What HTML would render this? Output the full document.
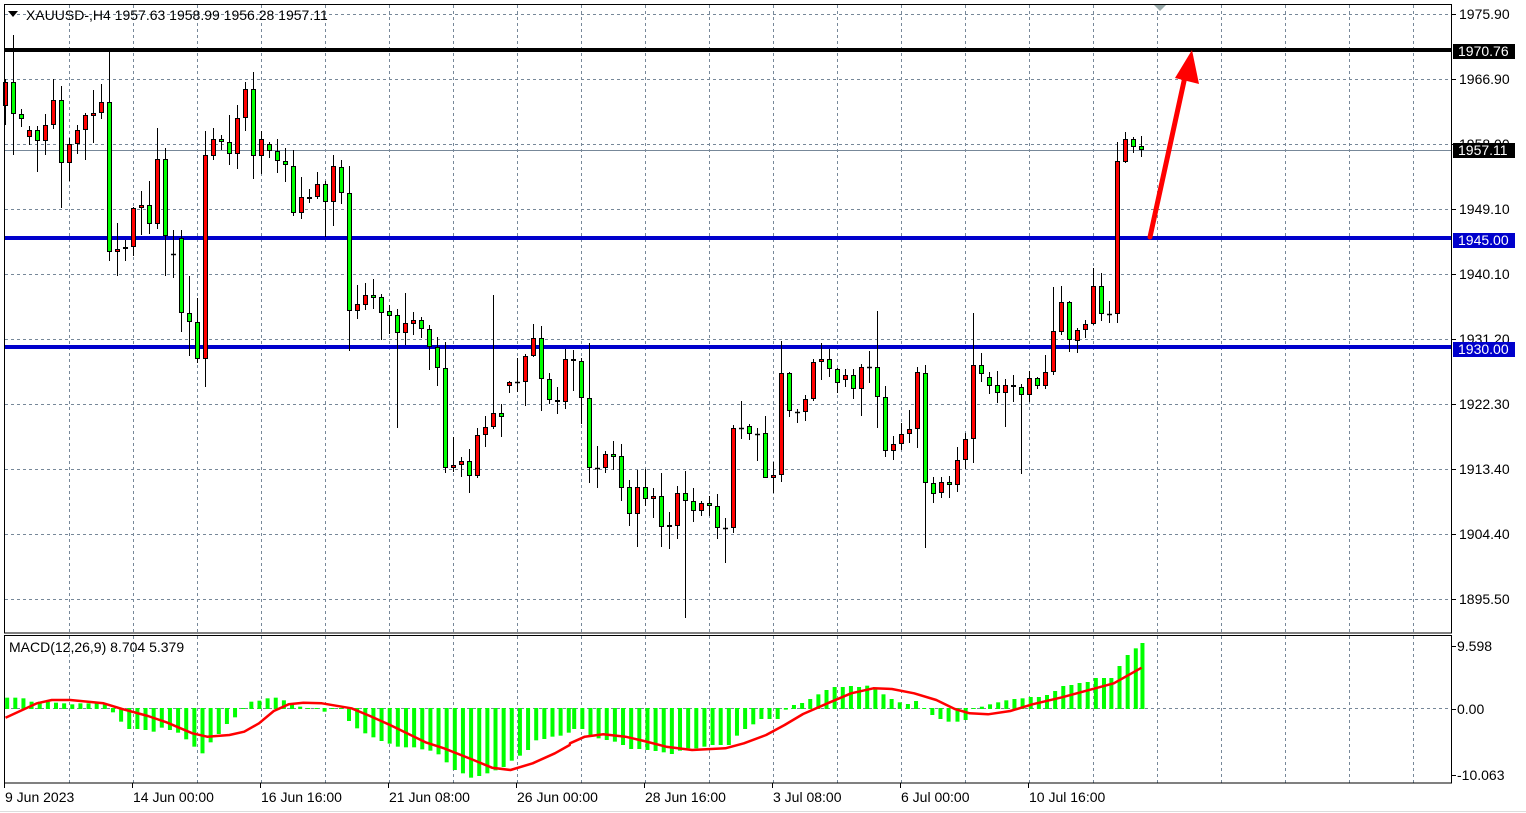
<!DOCTYPE html>
<html><head><meta charset="utf-8">
<style>
html,body{margin:0;padding:0;background:#fff;width:1526px;height:813px;overflow:hidden}
svg{display:block}
text{font-family:"Liberation Sans",sans-serif;font-size:14px;fill:#000}
</style></head><body>
<svg id="s" width="1526" height="813" xmlns="http://www.w3.org/2000/svg">
<rect x="0" y="0" width="1526" height="813" fill="#fff"/>
<g id="grid"></g>
<g id="lines"></g>
<g id="candles"></g>
<g id="macd"></g>
<rect x="4.5" y="4.5" width="1447" height="628.5" fill="none" stroke="#000" stroke-width="1"/>
<rect x="4.5" y="635.5" width="1447" height="147.5" fill="none" stroke="#000" stroke-width="1"/>
<line x1="0" x2="1526" y1="811.5" y2="811.5" stroke="#ddd"/>
<polygon points="8,11 18,11 13,17" fill="#000"/>
<text x="26" y="20">XAUUSD-,H4  1957.63 1958.99 1956.28 1957.11</text>
<polygon points="1154,5 1166,5 1160,11" fill="#9aa"/>
<text x="9" y="652">MACD(12,26,9) 8.704 5.379</text>
<g id="axis"></g>
<line x1="1150" y1="237" x2="1186" y2="72" stroke="#f00" stroke-width="5" stroke-linecap="round"/>
<polygon points="1175,78 1199,84 1192,50" fill="#f00"/>
</svg>
<script>
var NS="http://www.w3.org/2000/svg";
function el(p,t,a,txt){var e=document.createElementNS(NS,t);for(var k in a)e.setAttribute(k,a[k]);if(txt!=null)e.textContent=txt;document.getElementById(p).appendChild(e);return e;}
var gc="#778899";
for(var x=69.5;x<1452;x+=64){
 el("grid","line",{x1:x,x2:x,y1:5,y2:633,stroke:gc,"stroke-dasharray":"3,3"});
 el("grid","line",{x1:x,x2:x,y1:636,y2:783,stroke:gc,"stroke-dasharray":"3,3"});
}
var hy=[[14,"1975.90"],[79,"1966.90"],[144,"1958.00"],[209,"1949.10"],[274,"1940.10"],[339,"1931.20"],[404,"1922.30"],[469,"1913.40"],[534,"1904.40"],[599,"1895.50"]];
hy.forEach(function(h){
 el("grid","line",{x1:5,x2:1452,y1:h[0]+.5,y2:h[0]+.5,stroke:gc,"stroke-dasharray":"3,3"});
 el("axis","line",{x1:1452,x2:1456,y1:h[0]+.5,y2:h[0]+.5,stroke:"#000"});
 el("axis","text",{x:1459,y:h[0]+5},h[1]);
});
el("grid","line",{x1:5,x2:1452,y1:708.5,y2:708.5,stroke:gc,"stroke-dasharray":"3,3"});
[[646,"9.598"],[709,"0.00"],[775,"-10.063"]].forEach(function(h){
 el("axis","line",{x1:1452,x2:1456,y1:h[0]+.5,y2:h[0]+.5,stroke:"#000"});
 el("axis","text",{x:1457,y:h[0]+5},h[1]);
});
el("lines","line",{x1:5,x2:1452,y1:150.5,y2:150.5,stroke:"#778899"});
el("lines","rect",{x:5,y:48,width:1447,height:4,fill:"#000"});
el("lines","rect",{x:5,y:236,width:1447,height:4,fill:"#0000cc"});
el("lines","rect",{x:5,y:345,width:1447,height:4,fill:"#0000cc"});
function lab(y,t,bg){el("axis","rect",{x:1453,y:y-7,width:62,height:15,fill:bg});var e=el("axis","text",{x:1458,y:y+5},t);e.setAttribute("style","fill:#fff");}
lab(51,"1970.76","#000");lab(150,"1957.11","#000");lab(240,"1945.00","#0000cc");lab(349,"1930.00","#0000cc");
[[4,"9 Jun 2023"],[132,"14 Jun 00:00"],[260,"16 Jun 16:00"],[388,"21 Jun 08:00"],[516,"26 Jun 00:00"],[644,"28 Jun 16:00"],[772,"3 Jul 08:00"],[900,"6 Jul 00:00"],[1028,"10 Jul 16:00"]].forEach(function(t){
 el("axis","line",{x1:t[0]+.5,x2:t[0]+.5,y1:783,y2:788,stroke:"#000"});
 el("axis","text",{x:t[0]+1,y:802},t[1]);
});
var C=[
[79,82,106,125,"r"],[35,82,114,155,"g"],[109,114,119,127,"g"],[126,130,137,145,"r"],[126,130,141,172,"g"],[114,125,141,155,"r"],[79,100,125,129,"r"],[86,100,163,208,"g"],[138,144,163,181,"r"],[125,130,144,154,"r"],[113,115,130,160,"r"],[90,113,116,143,"r"],[84,102,113,119,"r"],[52,102,252,261,"g"],[223,249,252,276,"r"],[240,247,249,261,"r"],[207,208,247,256,"r"],[191,205,208,235,"r"],[181,205,224,234,"g"],[128,159,224,229,"r"],[148,159,236,276,"g"],[230,254,254,278,"d"],[230,238,313,332,"g"],[276,313,322,356,"g"],[298,322,359,363,"g"],[131,155,359,387,"r"],[128,139,156,160,"r"],[135,139,142,150,"g"],[115,142,154,165,"g"],[105,118,154,169,"r"],[82,89,118,131,"r"],[72,89,156,179,"g"],[131,139,156,174,"r"],[142,144,151,158,"g"],[139,151,161,173,"g"],[148,161,165,182,"g"],
[150,166,213,216,"g"],[177,197,213,219,"r"],[189,197,199,203,"g"],[172,184,197,199,"r"],[181,184,202,237,"g"],[155,166,202,226,"r"],[160,167,193,204,"g"],[166,193,311,351,"g"],[285,304,311,319,"r"],[283,295,305,310,"r"],[279,295,298,309,"g"],[294,297,313,340,"g"],[305,311,316,334,"g"],[309,315,333,428,"g"],[293,323,333,345,"r"],[312,320,324,335,"r"],[317,320,329,338,"g"],[325,329,347,370,"g"],[337,347,368,386,"g"],[342,368,468,473,"g"],[437,465,468,472,"r"],[457,461,465,477,"r"],[449,461,476,493,"g"],[428,435,476,478,"r"],[416,427,435,447,"r"],[295,413,427,429,"r"],[404,413,417,437,"g"],[381,382,386,393,"r"],[358,382,382,392,"d"],[354,356,382,406,"r"],[324,338,356,357,"r"],[326,338,379,411,"g"],[373,379,400,404,"g"],[387,400,402,414,"g"],[349,359,402,409,"r"],[350,359,361,391,"g"],
[358,361,398,424,"g"],[343,398,468,483,"g"],[446,468,468,488,"d"],[451,454,468,473,"r"],[441,454,457,470,"g"],[444,456,488,501,"g"],[480,487,514,526,"g"],[470,487,514,547,"r"],[469,487,499,506,"g"],[488,496,499,518,"r"],[473,496,527,547,"g"],[512,525,527,549,"r"],[486,493,526,539,"r"],[471,493,501,618,"g"],[488,501,511,522,"g"],[501,503,511,516,"r"],[496,503,506,516,"g"],[494,506,528,539,"g"],[518,528,528,563,"d"],[425,428,528,533,"r"],[401,428,428,439,"d"],[424,426,434,440,"g"],[428,434,434,461,"d"],[416,433,478,478,"g"],[462,475,478,493,"r"],[341,373,475,482,"r"],[372,373,411,417,"g"],[409,412,412,423,"d"],[395,399,412,421,"r"],[359,362,399,401,"r"],[343,359,362,380,"r"],[349,359,369,377,"g"],[368,369,383,393,"g"],[369,375,380,387,"r"],[369,375,389,399,"g"],[364,367,389,416,"r"],[351,367,367,383,"d"],
[311,367,397,428,"g"],[386,397,451,457,"g"],[436,444,451,460,"r"],[423,434,444,450,"r"],[410,429,434,443,"r"],[367,372,429,448,"r"],[365,373,483,548,"g"],[477,483,494,503,"g"],[477,482,493,498,"r"],[476,482,485,498,"g"],[447,460,485,492,"r"],[433,439,460,469,"r"],[313,365,439,463,"r"],[353,365,374,382,"g"],[372,377,386,394,"g"],[371,385,393,403,"g"],[379,385,393,427,"r"],[375,385,387,402,"g"],[384,387,395,474,"g"],[371,378,395,402,"r"],[377,378,386,389,"g"],[355,372,386,389,"r"],[287,331,372,375,"r"],[286,302,332,335,"r"],[301,302,340,352,"g"],[328,330,341,353,"r"],[320,324,330,338,"r"],[268,286,324,325,"r"],[273,286,314,321,"g"],[301,314,314,323,"d"],[142,161,314,323,"r"],[132,139,162,163,"r"],[137,139,147,153,"g"],[136,146,150,157,"g"]
];
C.forEach(function(c,i){
 var x=5+8*i;
 el("candles","line",{x1:x+.5,x2:x+.5,y1:c[0],y2:c[3],stroke:"#000","stroke-width":1});
 if(c[4]=="d"){el("candles","line",{x1:x-2,x2:x+3,y1:c[1]+.5,y2:c[1]+.5,stroke:"#000","stroke-width":1.5});return;}
 var h=Math.max(c[2]-c[1],2);
 el("candles","rect",{x:x-1.5,y:c[1]+.5,width:4,height:h-1,fill:c[4]=="r"?"#ff0000":"#00ff00",stroke:"#000","stroke-width":1});
});
var H5=[[18,188],[40,188],[62,190],[84,200],[106,200],[128,200],[150,203],[172,205],[194,208],[216,205],[238,205],[260,205],[282,208],[304,232],[326,260],[348,282],[370,282],[392,285],[414,290],[436,278],[458,285],[480,293],[502,313],[524,335],[546,355],[568,322],[590,297],[612,267],[634,247],[656,222],[678,200],[700,197],[722,190],[744,188],[766,196],[788,205],[810,215],[832,222],[854,222],[876,230],[898,222],[920,222],[942,258],[964,280],[986,295],[1008,307],[1030,318],[1052,326],[1074,335],[1096,337],[1118,337],[1140,343],[1162,347],[1184,358],[1206,382],[1228,405],[1250,415],[1272,428],[1294,423],[1316,415],[1338,406],[1360,396],[1382,377],[1404,362],[1426,345],[1448,316],[1470,312],[1492,305],[1514,302],[1536,293]];
var H6=[[10,282],[32,282],[54,300],[76,310],[98,315],[120,320],[142,330],[164,342],[186,342],[208,345],[230,348],[252,352],[274,357],[296,347],[318,340],[340,340],[362,335],[384,330],[406,330],[428,330],[450,302],[472,282],[494,268],[516,252],[538,252],[560,252],[582,224],[604,210],[626,204],[648,192],[670,178],[692,165],[714,156],[736,156],[758,153],[780,156],[802,152],[824,162],[846,178],[868,192],[890,202],[912,207],[934,198],[956,219],[978,240],[1000,252],[1022,260],[1046,260],[1068,255],[1090,220],[1112,215],[1134,208],[1156,202],[1178,196],[1200,192],[1222,190],[1244,186],[1266,186],[1288,180],[1310,168],[1332,153],[1354,150],[1376,144],[1398,141],[1420,129],[1442,129],[1462,129],[1484,93],[1506,60],[1528,40],[1546,24]];
function bar(x,zy){var y=635+zy/3;var t=Math.min(y,708),b=Math.max(y,709);if(b-t<1)b=t+1;el("macd","rect",{x:x-1.5,y:t,width:4,height:b-t,fill:"#00ff00"});}
H5.forEach(function(h){bar(h[0]/2.703,h[1]);});
H6.forEach(function(h){bar(570+h[0]/2.703,h[1]);});
var S5=[[15,248],[100,205],[140,195],[190,195],[280,205],[330,222],[400,243],[450,262],[520,295],[560,305],[620,300],[660,290],[700,265],[740,228],[780,208],[820,203],[870,205],[950,220],[1000,243],[1050,268],[1100,295],[1150,322],[1200,340],[1280,375],[1330,398],[1380,405],[1440,385],[1500,355],[1540,330]];
var S6=[[0,325],[40,305],[90,298],[150,305],[200,318],[260,335],[330,345],[420,340],[470,325],[530,300],[580,270],[630,237],[700,203],[760,175],[820,160],[870,162],[930,175],[990,195],[1040,222],[1080,235],[1130,238],[1190,228],[1250,208],[1330,187],[1410,163],[1470,145],[1518,115],[1545,98]];
var pts=[];
S5.forEach(function(p){pts.push((p[0]/2.703).toFixed(1)+","+(635+p[1]/3).toFixed(1));});
S6.forEach(function(p){pts.push((570+p[0]/2.703).toFixed(1)+","+(635+p[1]/3).toFixed(1));});
el("macd","polyline",{points:pts.join(" "),fill:"none",stroke:"#f00","stroke-width":2.5,"stroke-linejoin":"round"});
</script>
</body></html>
